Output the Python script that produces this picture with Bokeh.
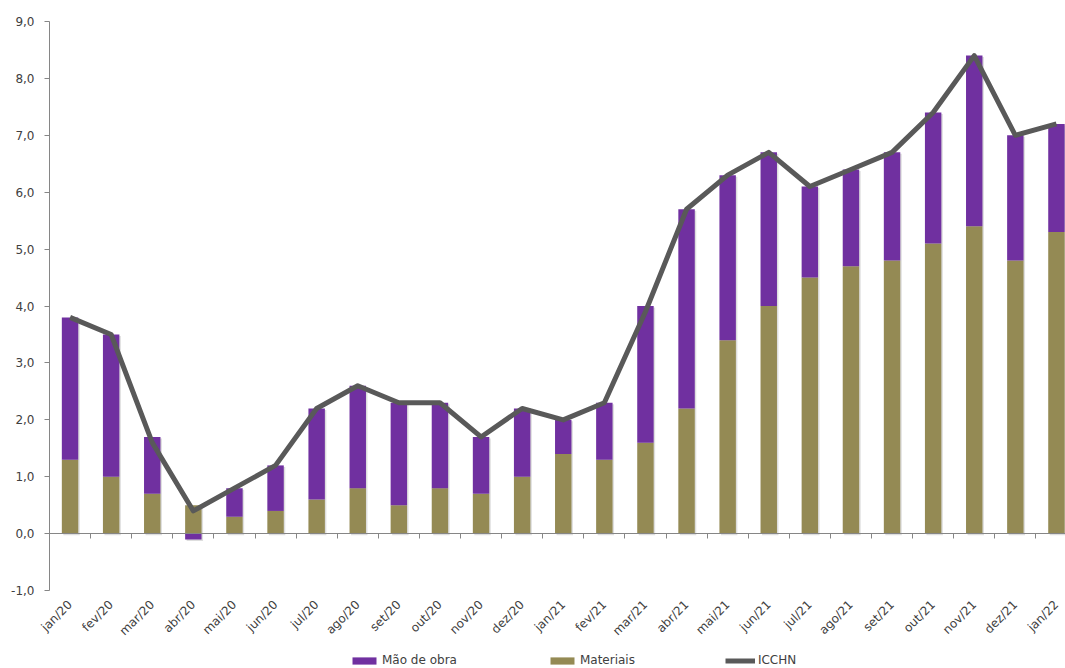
import math
from bokeh.plotting import figure
from bokeh.models import (ColumnDataSource, FixedTicker, Range1d, LinearAxis,
                          Legend, LegendItem)
from bokeh.embed import file_html
from bokeh.resources import INLINE

months = ["jan/20", "fev/20", "mar/20", "abr/20", "mai/20", "jun/20", "jul/20",
          "ago/20", "set/20", "out/20", "nov/20", "dez/20", "jan/21", "fev/21",
          "mar/21", "abr/21", "mai/21", "jun/21", "jul/21", "ago/21", "set/21",
          "out/21", "nov/21", "dez/21", "jan/22"]
materiais = [1.3, 1.0, 0.7, 0.5, 0.3, 0.4, 0.6, 0.8, 0.5, 0.8, 0.7, 1.0, 1.4, 1.3,
             1.6, 2.2, 3.4, 4.0, 4.5, 4.7, 4.8, 5.1, 5.4, 4.8, 5.3]
mao_de_obra = [2.5, 2.5, 1.0, -0.1, 0.5, 0.8, 1.6, 1.8, 1.8, 1.5, 1.0, 1.2, 0.6, 1.0,
               2.4, 3.5, 2.9, 2.7, 1.6, 1.7, 1.9, 2.3, 3.0, 2.2, 1.9]
icchn = [3.8, 3.5, 1.6, 0.4, 0.8, 1.2, 2.2, 2.6, 2.3, 2.3, 1.7, 2.2, 2.0, 2.3,
         3.9, 5.7, 6.3, 6.7, 6.1, 6.4, 6.7, 7.4, 8.4, 7.0, 7.2]
y_ticks = [-1, 0, 1, 2, 3, 4, 5, 6, 7, 8, 9]

FONT = "DejaVu Sans"
TXT = "#404040"
AXC = "#868686"

W, H = 1065, 668
PX_X = 41.1   # pixels per category
PX_Y = 57.0   # pixels per unit
AX_X, Y9, YM1 = 49, 21, 590

n = len(months)
x = list(range(n))
mao_bottom = [m if o >= 0 else 0 for m, o in zip(materiais, mao_de_obra)]
mao_top = [b + o for b, o in zip(mao_bottom, mao_de_obra)]
src = ColumnDataSource(dict(x=x, mat=materiais, mb=mao_bottom, mt=mao_top, icchn=icchn))

x0 = -0.5 - AX_X / PX_X
x1 = -0.5 + (W - AX_X) / PX_X
y1 = 9 + Y9 / PX_Y
y0 = -1 - (H - YM1) / PX_Y

p = figure(width=W, height=H, output_backend="svg", toolbar_location=None,
           x_range=Range1d(x0, x1), y_range=Range1d(y0, y1),
           x_axis_location=None, y_axis_location=None,
           min_border=0)
p.outline_line_color = None
p.xgrid.visible = False
p.ygrid.visible = False

# y axis
ya = LinearAxis(ticker=FixedTicker(ticks=y_ticks), fixed_location=-0.5,
                bounds=(-1, 9),
                major_label_overrides={t: f"{t:.1f}".replace(".", ",") for t in y_ticks},
                major_label_text_font=FONT, major_label_text_font_size="12px",
                major_label_text_color=TXT, major_tick_out=5, major_tick_in=0,
                minor_tick_line_color=None, axis_line_color=AXC,
                major_tick_line_color=AXC, major_label_standoff=10)
p.add_layout(ya, "left")

# x axis line at zero with category boundary ticks
xa = LinearAxis(ticker=FixedTicker(ticks=[i - 0.5 for i in range(n + 1)]),
                fixed_location=0, bounds=(-0.5, n - 0.5),
                major_label_text_font_size="0px", major_label_text_color=None,
                major_tick_out=5, major_tick_in=0, minor_tick_line_color=None,
                axis_line_color=AXC, major_tick_line_color=AXC)
p.add_layout(xa, "below")

# category labels below the -1 line
lab = LinearAxis(ticker=FixedTicker(ticks=x), fixed_location=-1,
                 major_label_overrides={i: m for i, m in zip(x, months)},
                 axis_line_color=None, major_tick_line_color=None,
                 minor_tick_line_color=None, major_label_orientation=math.pi / 4,
                 major_label_standoff=6, major_label_text_font=FONT,
                 major_label_text_font_size="12px", major_label_text_color=TXT)
p.add_layout(lab, "below")

# faint bar shadow
sdx, sdy = 1.5 / PX_X, 1.5 / PX_Y
p.vbar(x=[v + sdx for v in x], width=0.4, bottom=[min(0, t) - sdy for t in mao_top],
       top=[max(m, t) - sdy for m, t in zip(materiais, mao_top)],
       fill_color="#000000", fill_alpha=0.13, line_color=None)

r_mat = p.vbar(x="x", width=0.4, bottom=0, top="mat", source=src,
               fill_color="#948A54", line_color=None)
r_mao = p.vbar(x="x", width=0.4, bottom="mb", top="mt", source=src,
               fill_color="#7030A0", line_color=None)
r_line = p.line(x="x", y="icchn", source=src, line_color="#595959", line_width=5,
                line_join="round")

legend = Legend(items=[LegendItem(label="Mão de obra", renderers=[r_mao]),
                       LegendItem(label="Materiais", renderers=[r_mat]),
                       LegendItem(label="ICCHN", renderers=[r_line])],
                orientation="horizontal", location=(349, 1), margin=0, padding=0,
                border_line_color=None, background_fill_alpha=0,
                glyph_width=30, glyph_height=9, label_standoff=3, label_width=0,
                spacing=90, label_text_font=FONT, label_text_font_size="12px",
                label_text_color=TXT, label_height=14)
p.add_layout(legend)

open("out.html", "w").write(file_html(p, INLINE))
